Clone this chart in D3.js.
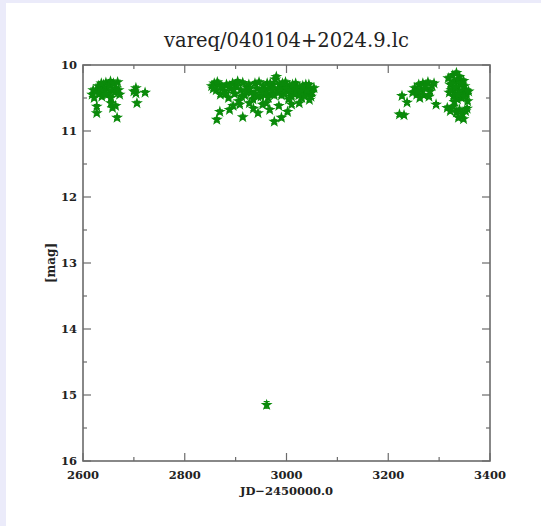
<!DOCTYPE html>
<html><head><meta charset="utf-8">
<script src="https://cdn.jsdelivr.net/npm/d3@7"></script>
<style>
html,body{margin:0;padding:0;background:#ebebfa;}
svg{display:block;}
</style></head><body>
<script>
// ---- data ----
const title = "vareq/040104+2024.9.lc";
const xLabel = "JD\u22122450000.0";
const yLabel = "[mag]";
const xTicks = [2600, 2800, 3000, 3200, 3400];
const yTicks = [10, 11, 12, 13, 14, 15, 16];
const typicalErr = 0.03;
const season1 = [[2618,10.45],[2620,10.38],[2622,10.50],[2625,10.40],[2627,10.63],[2627,10.73],[2630,10.32],[2632,10.42],[2635,10.36],[2637,10.48],[2640,10.30],[2642,10.40],[2645,10.27],[2647,10.35],[2650,10.44],[2652,10.30],[2654,10.25],[2655,10.58],[2657,10.38],[2658,10.65],[2660,10.28],[2662,10.42],[2664,10.62],[2665,10.35],[2667,10.80],[2668,10.26],[2670,10.38],[2672,10.45],[2655,10.50],[2645,10.45],[2636,10.28],
 [2704,10.35],[2704,10.43],[2722,10.42],[2706,10.58],[2700,10.40]];
const season2 = [[2853,10.32],[2858,10.28],[2862,10.38],[2866,10.30],[2870,10.45],[2874,10.34],[2878,10.40],[2882,10.30],[2886,10.50],[2890,10.36],[2894,10.28],[2898,10.44],[2902,10.32],[2906,10.55],[2910,10.38],[2914,10.27],[2918,10.46],[2922,10.34],[2926,10.30],[2930,10.42],[2934,10.52],[2938,10.28],[2942,10.36],[2946,10.26],[2950,10.48],[2954,10.32],[2958,10.40],[2962,10.28],[2966,10.36],[2970,10.44],[2974,10.30],[2978,10.22],[2980,10.18],[2982,10.38],[2986,10.30],[2990,10.46],[2994,10.34],[2998,10.26],[3002,10.40],[3006,10.32],[3010,10.48],[3014,10.36],[3018,10.28],[3022,10.42],[3026,10.34],[3030,10.50],[3034,10.38],[3038,10.30],[3042,10.44],[3046,10.36],[3050,10.42],[3054,10.35],
 [2856,10.36],[2864,10.26],[2872,10.33],[2880,10.44],[2888,10.32],[2896,10.38],[2904,10.25],[2912,10.48],[2920,10.40],[2928,10.36],[2936,10.44],[2944,10.48],[2952,10.38],[2960,10.44],[2964,10.50],[2968,10.28],[2972,10.38],[2976,10.46],[2984,10.42],[2988,10.36],[2992,10.28],[2996,10.44],[3000,10.36],[3004,10.52],[3008,10.40],[3012,10.30],[3016,10.44],[3020,10.38],[3024,10.46],[3028,10.40],[3032,10.32],[3036,10.46],[3040,10.38],[3044,10.30],[3048,10.48],
 [2869,10.71],[2863,10.83],[2888,10.68],[2914,10.79],[2944,10.73],[2967,10.68],[2976,10.86],[2990,10.80],[3002,10.71],[3025,10.58],[3045,10.53],[2908,10.60],[2927,10.58],[2953,10.60],[2895,10.62],[2935,10.66],[2985,10.62],[2960,10.58],[3010,10.60]];
const season3 = [[3227,10.47],[3237,10.57],[3231,10.76],[3222,10.75],
 [3248,10.42],[3252,10.35],[3256,10.45],[3260,10.30],[3264,10.38],[3268,10.28],[3270,10.46],[3274,10.36],[3278,10.26],[3282,10.40],[3286,10.32],[3290,10.28],[3262,10.50],[3280,10.48],[3294,10.60],[3258,10.40],[3272,10.32],
 [3318,10.20],[3322,10.30],[3326,10.16],[3330,10.25],[3334,10.35],[3338,10.22],[3342,10.30],[3346,10.40],[3350,10.32],[3354,10.45],[3320,10.42],[3324,10.38],[3328,10.48],[3332,10.44],[3336,10.52],[3340,10.40],[3344,10.50],[3348,10.24],[3352,10.38],[3356,10.55],[3326,10.28],[3332,10.34],[3338,10.45],[3344,10.28],[3340,10.18],[3334,10.12],[3330,10.56],[3350,10.48],[3358,10.40],
 [3316,10.65],[3322,10.70],[3328,10.63],[3334,10.72],[3340,10.68],[3346,10.75],[3352,10.70],[3348,10.82],[3338,10.80],[3355,10.66]];
const outliers = [[2961,15.15,0.05]];

// ---- drawing ----
const W = 541, H = 526;
const frame = {l:83, r:490, t:65, b:461};
const svg = d3.select("body").append("svg").attr("width",W).attr("height",H);
svg.append("rect").attr("x",6).attr("y",3).attr("width",W-6).attr("height",H-3).attr("fill","#ffffff");

const x = d3.scaleLinear().domain([2600,3400]).range([frame.l,frame.r]);
const y = d3.scaleLinear().domain([10,16]).range([frame.t,frame.b]);
const serif = "'DejaVu Serif','Liberation Serif',serif";
const axisCol = "#6b6b6b";
const green = "#0a8a0a";

// ticks
const g = svg.append("g");
const xMajor = d3.range(2600,3401,200), xMinor = d3.range(2700,3400,200);
const yMajor = d3.range(10,16.01,1), yMinor = d3.range(10.5,16,1);
function tickX(v,len){
  g.append("line").attr("x1",x(v)).attr("x2",x(v)).attr("y1",frame.b).attr("y2",frame.b-len).attr("stroke",axisCol).attr("stroke-width",1.2);
  g.append("line").attr("x1",x(v)).attr("x2",x(v)).attr("y1",frame.t).attr("y2",frame.t+len).attr("stroke",axisCol).attr("stroke-width",1.2);
}
function tickY(v,len){
  g.append("line").attr("y1",y(v)).attr("y2",y(v)).attr("x1",frame.l).attr("x2",frame.l+len).attr("stroke",axisCol).attr("stroke-width",1.2);
  g.append("line").attr("y1",y(v)).attr("y2",y(v)).attr("x1",frame.r).attr("x2",frame.r-len).attr("stroke",axisCol).attr("stroke-width",1.2);
}
xMajor.forEach(v=>tickX(v,8)); xMinor.forEach(v=>tickX(v,4));
yMajor.forEach(v=>tickY(v,8)); yMinor.forEach(v=>tickY(v,4));
g.append("rect").attr("x",frame.l).attr("y",frame.t).attr("width",frame.r-frame.l).attr("height",frame.b-frame.t)
 .attr("fill","none").attr("stroke",axisCol).attr("stroke-width",1.6);

// labels
const lab = {family:serif, weight:"bold", size:11.5, fill:"#222"};
svg.selectAll(".xt").data(xTicks).enter().append("text").attr("x",d=>x(d)).attr("y",frame.b+18)
 .attr("text-anchor","middle").attr("font-family",lab.family).attr("font-weight",lab.weight).attr("font-size",lab.size).attr("fill",lab.fill).text(d=>d);
svg.selectAll(".yt").data(yTicks).enter().append("text").attr("x",frame.l-6).attr("y",d=>y(d)+4)
 .attr("text-anchor","end").attr("font-family",lab.family).attr("font-weight",lab.weight).attr("font-size",lab.size).attr("fill",lab.fill).text(d=>d);
svg.append("text").attr("x",(frame.l+frame.r)/2).attr("y",frame.b+34).attr("text-anchor","middle")
 .attr("font-family",lab.family).attr("font-weight",lab.weight).attr("font-size",11.5).attr("fill",lab.fill).text(xLabel);
svg.append("text").attr("transform",`translate(55,${(frame.t+frame.b)/2}) rotate(-90)`).attr("text-anchor","middle")
 .attr("font-family",lab.family).attr("font-weight",lab.weight).attr("font-size",12).attr("fill",lab.fill).text(yLabel);
svg.append("text").attr("x",(frame.l+frame.r)/2).attr("y",47).attr("text-anchor","middle")
 .attr("font-family",serif).attr("font-size",19.5).attr("fill","#222").text(title);

// points
const pts = [...season1,...season2,...season3].map(d=>[d[0],d[1],typicalErr]).concat(outliers);
const pg = svg.append("g");
const sym = d3.symbol().type(d3.symbolStar).size(44);
pts.forEach(d=>{
  const px=x(d[0]), py=y(d[1]), e1=y(d[1]-d[2]), e2=y(d[1]+d[2]);
  pg.append("line").attr("x1",px).attr("x2",px).attr("y1",e1).attr("y2",e2).attr("stroke",green).attr("stroke-width",1.2);
  pg.append("line").attr("x1",px-3).attr("x2",px+3).attr("y1",e1).attr("y2",e1).attr("stroke",green).attr("stroke-width",1.2);
  pg.append("line").attr("x1",px-3).attr("x2",px+3).attr("y1",e2).attr("y2",e2).attr("stroke",green).attr("stroke-width",1.2);
  pg.append("path").attr("d",sym).attr("transform",`translate(${px},${py})`).attr("fill",green);
});
</script>
</body></html>
